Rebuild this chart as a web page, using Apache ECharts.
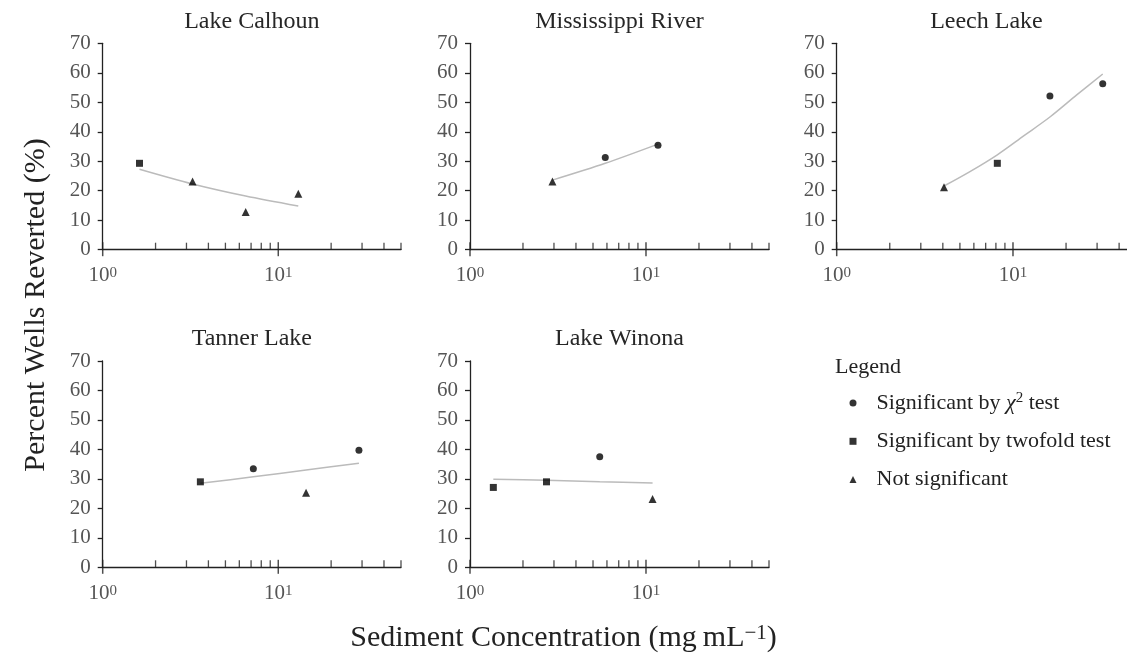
<!DOCTYPE html>
<html>
<head>
<meta charset="utf-8">
<title>Percent Wells Reverted</title>
<script src="https://cdn.jsdelivr.net/npm/echarts@6/dist/echarts.min.js"></script>
<style>
  html, body { margin: 0; background: #fff; }
  #chart { width: 1127px; height: 654px; }
</style>
</head>
<body>
<div id="chart"></div>
<script>
// panel titles
var lakes = ['Lake Calhoun', 'Mississippi River', 'Leech Lake', 'Tanner Lake', 'Lake Winona'];

// points are [sediment concentration (mg/mL), percent wells reverted]
var calhounChi = [];
var calhounTwofold = [[1.62, 29.3]];
var calhounNotSig = [[3.25, 23.1], [6.52, 12.8], [13.0, 19.0]];
var calhounFit = [[1.62, 27.3], [3.25, 22.3], [6.52, 18.2], [13.0, 14.8]];

var mississippiChi = [[5.87, 31.3], [11.7, 35.4]];
var mississippiTwofold = [];
var mississippiNotSig = [[2.94, 23.1]];
var mississippiFit = [[2.94, 23.6], [5.87, 29.3], [11.7, 35.8]];

var leechChi = [[16.2, 52.1], [32.3, 56.3]];
var leechTwofold = [[8.15, 29.3]];
var leechNotSig = [[4.06, 21.2]];
var leechFit = [[4.06, 21.6], [5.7, 26.5], [8.15, 32.2], [11.5, 38.6], [16.2, 45.0], [23.0, 52.5], [32.3, 59.6]];

var tannerChi = [[7.21, 33.4], [28.8, 39.7]];
var tannerTwofold = [[3.6, 29.0]];
var tannerNotSig = [[14.4, 25.3]];
var tannerFit = [[3.6, 28.5], [7.21, 30.7], [14.4, 33.0], [28.8, 35.3]];

var winonaChi = [[5.46, 37.5]];
var winonaTwofold = [[1.357, 27.1], [2.72, 29.0]];
var winonaNotSig = [[10.9, 23.2]];
var winonaFit = [[1.357, 29.9], [2.72, 29.5], [5.46, 29.0], [10.9, 28.6]];

// axis ticks
var xMajorTicks = [1, 10];
var xMinorTicks = [2, 3, 4, 5, 6, 7, 8, 9, 20, 30, 40, 50];
var yTicks = [0, 10, 20, 30, 40, 50, 60, 70];

var panels = [
  { chi: calhounChi, twofold: calhounTwofold, ns: calhounNotSig, fit: calhounFit },
  { chi: mississippiChi, twofold: mississippiTwofold, ns: mississippiNotSig, fit: mississippiFit },
  { chi: leechChi, twofold: leechTwofold, ns: leechNotSig, fit: leechFit },
  { chi: tannerChi, twofold: tannerTwofold, ns: tannerNotSig, fit: tannerFit },
  { chi: winonaChi, twofold: winonaTwofold, ns: winonaNotSig, fit: winonaFit }
];

var legendNames = {
  chi: 'Significant by {i|χ}{s|2} test',
  twofold: 'Significant by twofold test',
  ns: 'Not significant'
};

var FONT = "'Liberation Serif', 'DejaVu Serif', serif";
var INK = '#222';
var TICKTXT = '#555';

// panel boxes (the right one runs off the page, as in the original)
var boxes = [
  { left: 102.7, top: 43.3, width: 298.3, height: 206.4 },
  { left: 470, top: 43.3, width: 299, height: 206.4 },
  { left: 836.7, top: 43.3, width: 299.5, height: 206.4 },
  { left: 102.7, top: 361, width: 298.3, height: 206.3 },
  { left: 470, top: 361, width: 299, height: 206.3 }
];

var chart = echarts.init(document.getElementById('chart'));

var grid = [], xAxis = [], yAxis = [], series = [], graphic = [];

boxes.forEach(function (b, i) {
  grid.push({ left: b.left, top: b.top, width: b.width, height: b.height, containLabel: false, outerBoundsMode: 'none' });

  xAxis.push({
    gridIndex: i, type: 'log', logBase: 10, min: 1, max: 50,
    axisLine: { onZero: false, lineStyle: { color: INK, width: 1.3 } },
    axisTick: { show: false },
    splitLine: { show: false },
    axisLabel: {
      margin: 16,
      formatter: function (v) {
        for (var k = 0; k < xMajorTicks.length; k++) {
          if (Math.abs(v - xMajorTicks[k]) < 1e-6 * xMajorTicks[k]) {
            return '{b|10}{s|' + Math.round(Math.log10(xMajorTicks[k])) + '}';
          }
        }
        return '';
      },
      rich: {
        b: { fontFamily: FONT, fontSize: 21, lineHeight: 20, color: TICKTXT },
        s: { fontFamily: FONT, fontSize: 15, lineHeight: 8, verticalAlign: 'top', color: TICKTXT }
      }
    }
  });

  yAxis.push({
    gridIndex: i, type: 'value', min: yTicks[0], max: yTicks[yTicks.length - 1], interval: 10,
    axisLine: { show: true, onZero: false, lineStyle: { color: INK, width: 1.3 } },
    axisTick: { show: true, length: 5, lineStyle: { color: INK, width: 1.3 } },
    splitLine: { show: false },
    axisLabel: { margin: 12, color: TICKTXT, fontFamily: FONT, fontSize: 21 }
  });

  var p = panels[i];

  series.push({
    type: 'line', name: 'fit', xAxisIndex: i, yAxisIndex: i,
    data: p.fit, symbol: 'none', smooth: 0.3, silent: true,
    lineStyle: { color: '#bbb', width: 1.5 }, z: 1
  });
  [['chi', 'circle', 7], ['twofold', 'rect', 7], ['ns', 'triangle', 8]].forEach(function (m) {
    if (!p[m[0]].length) return;
    series.push({
      type: 'scatter', name: m[0], xAxisIndex: i, yAxisIndex: i,
      data: p[m[0]], symbol: m[1], symbolSize: m[2],
      itemStyle: { color: '#000' }, z: 3
    });
  });

  // log-axis tick marks, placed on y = 0
  series.push({
    type: 'scatter', name: 'majorTick', xAxisIndex: i, yAxisIndex: i, silent: true, clip: false,
    data: xMajorTicks.map(function (v) { return [v, 0]; }),
    symbol: 'rect', symbolSize: [1.5, 14], symbolOffset: [0, -0.5], itemStyle: { color: INK }, z: 4
  });
  series.push({
    type: 'scatter', name: 'minorTick', xAxisIndex: i, yAxisIndex: i, silent: true, clip: false,
    data: xMinorTicks.map(function (v) { return [v, 0]; }),
    symbol: 'rect', symbolSize: [1.3, 7], symbolOffset: [0, -3.5], itemStyle: { color: INK }, z: 4
  });

  graphic.push({
    type: 'text', x: b.left + b.width / 2, y: b.top - 22,
    style: { text: lakes[i], fill: '#262626', font: '24px ' + FONT, align: 'center', verticalAlign: 'middle' }
  });
});

graphic.push({
  type: 'text', x: 563.5, y: 638,
  style: {
    text: '{a|Sediment Concentration (mg\u2009mL}{s|\u22121}{a|)}',
    align: 'center', verticalAlign: 'middle',
    rich: {
      a: { fontFamily: FONT, fontSize: 30, lineHeight: 30, fill: INK, color: INK },
      s: { fontFamily: FONT, fontSize: 21, lineHeight: 14, verticalAlign: 'top', fill: INK, color: INK }
    }
  }
});
graphic.push({
  type: 'text', x: 36, y: 305, rotation: Math.PI / 2,
  style: { text: 'Percent Wells Reverted (%)', fill: INK, font: '30px ' + FONT, align: 'center', verticalAlign: 'middle' }
});
graphic.push({
  type: 'text', x: 835, y: 367.5,
  style: { text: 'Legend', fill: INK, font: '22px ' + FONT, align: 'left', verticalAlign: 'middle' }
});

chart.setOption({
  backgroundColor: '#fff',
  animation: false,
  grid: grid,
  xAxis: xAxis,
  yAxis: yAxis,
  series: series,
  graphic: graphic,
  legend: {
    data: [
      { name: 'chi', icon: 'circle' },
      { name: 'twofold', icon: 'rect' },
      { name: 'ns', icon: 'triangle' }
    ],
    orient: 'vertical', left: 849.5, top: 391, padding: 0,
    itemWidth: 7, itemHeight: 7, itemGap: 14.3, selectedMode: false,
    formatter: function (name) { return '{g|}{t|' + legendNames[name].replace(/\{i\|χ\}\{s\|2\}/, '}{i|χ}{s|2}{t|') + '}'; },
    textStyle: {
      fontFamily: FONT, fontSize: 22, lineHeight: 24, color: INK,
      rich: {
        g: { width: 15 },
        t: { fontFamily: FONT, fontSize: 22, lineHeight: 24, color: INK },
        i: { fontFamily: FONT, fontSize: 22, lineHeight: 24, fontStyle: 'italic', color: INK },
        s: { fontFamily: FONT, fontSize: 15, lineHeight: 12, verticalAlign: 'top', color: INK }
      }
    }
  }
});
</script>
</body>
</html>
